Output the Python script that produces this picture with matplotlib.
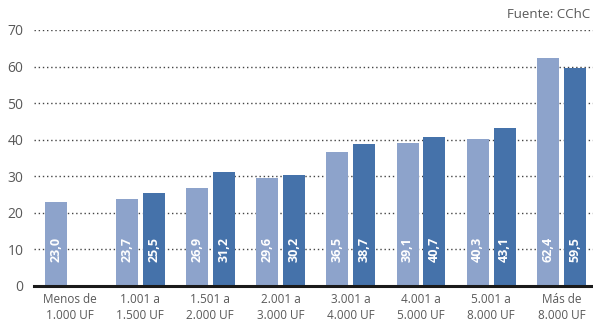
import numpy as np
import matplotlib.pyplot as plt

# Datos
categorias = ['Menos de\n1.000 UF', '1.001 a\n1.500 UF', '1.501 a\n2.000 UF', '2.001 a\n3.000 UF',
              '3.001 a\n4.000 UF', '4.001 a\n5.000 UF', '5.001 a\n8.000 UF', 'Más de\n8.000 UF']
serie_clara = [23.0, 23.7, 26.9, 29.6, 36.5, 39.1, 40.3, 62.4]
serie_oscura = [None, 25.5, 31.2, 30.2, 38.7, 40.7, 43.1, 59.5]
yticks = [0, 10, 20, 30, 40, 50, 60, 70]

color_claro = '#8DA3CB'
color_oscuro = '#4572AA'
gris = '#595959'

plt.rcParams['font.family'] = ['Open Sans', 'DejaVu Sans']

fig = plt.figure(figsize=(5.93, 3.22), dpi=100)
ax = fig.add_axes([0.058, 0.112, 0.942, 0.795])

x = np.arange(len(categorias))
ancho = 0.313
sep = 0.035

for i in range(len(categorias)):
    v1 = serie_clara[i]
    ax.bar(x[i] - sep - ancho / 2, v1, width=ancho, color=color_claro, zorder=3)
    ax.text(x[i] - sep - ancho / 2, 10, f'{v1:.1f}'.replace('.', ','), rotation=90,
            ha='center', va='center', color='white', fontsize=9, fontweight='bold', zorder=4)
    v2 = serie_oscura[i]
    if v2 is not None:
        ax.bar(x[i] + sep + ancho / 2, v2, width=ancho, color=color_oscuro, zorder=3)
        ax.text(x[i] + sep + ancho / 2, 10, f'{v2:.1f}'.replace('.', ','), rotation=90,
                ha='center', va='center', color='white', fontsize=9, fontweight='bold', zorder=4)

ax.set_xlim(-0.505, 7.45)
ax.set_ylim(0, 70)
ax.set_yticks(yticks)
ax.set_yticklabels([str(t) for t in yticks], color=gris, fontsize=10)
ax.set_xticks(x)
ax.set_xticklabels(categorias, color=gris, fontsize=8.5, linespacing=1.3)
ax.tick_params(axis='both', length=0)
ax.tick_params(axis='y', pad=8)
ax.tick_params(axis='x', pad=5)

for t in yticks[1:]:
    ax.axhline(t, color='#444444', linewidth=1, linestyle=(0, (1, 2)), zorder=1)

for s in ['top', 'right', 'left']:
    ax.spines[s].set_visible(False)
ax.spines['bottom'].set_linewidth(2.2)
ax.spines['bottom'].set_color('#1a1a1a')
ax.spines['bottom'].set_zorder(5)

fig.text(0.995, 0.955, 'Fuente: CChC', ha='right', va='center', color=gris, fontsize=9.5)

fig.savefig('out.png', dpi=100)
